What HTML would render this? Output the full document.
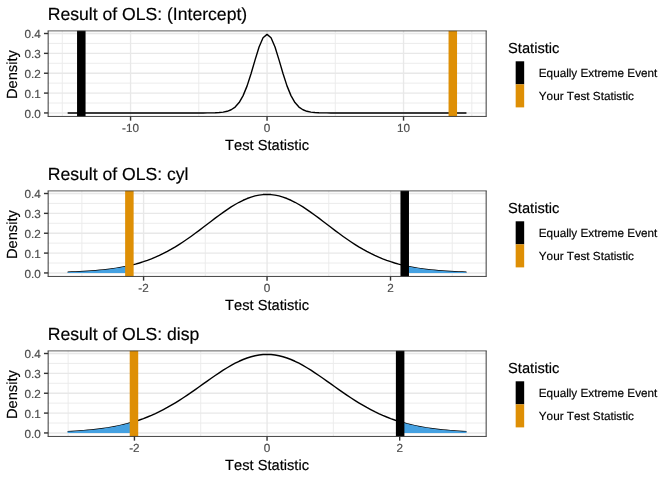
<!DOCTYPE html>
<html lang="en">
<head>
<meta charset="utf-8">
<title>OLS results</title>
<style>
html,body{margin:0;padding:0;background:#fff;}
body{width:672px;height:480px;overflow:hidden;font-family:"Liberation Sans",sans-serif;}
svg{display:block;will-change:transform;font-kerning:none;text-rendering:geometricPrecision;}
text{stroke-width:0.18px;}
text[fill="#000"]{stroke:#000;}
text[fill="#4d4d4d"]{stroke:#4d4d4d;}
</style>
</head>
<body>
<svg width="672" height="480" viewBox="0 0 672 480" font-family="'Liberation Sans', sans-serif">
<rect width="672" height="480" fill="#fff"/>
<g>
<text x="47.71" y="20.00" font-size="17.6" fill="#000">Result of OLS: (Intercept)</text>
<rect x="48.16" y="30.80" width="438.00" height="85.65" fill="#fff"/>
<line x1="48.16" x2="486.16" y1="103.02" y2="103.02" stroke="#ebebeb" stroke-width="0.95"/>
<line x1="48.16" x2="486.16" y1="83.16" y2="83.16" stroke="#ebebeb" stroke-width="0.95"/>
<line x1="48.16" x2="486.16" y1="63.30" y2="63.30" stroke="#ebebeb" stroke-width="0.95"/>
<line x1="48.16" x2="486.16" y1="43.44" y2="43.44" stroke="#ebebeb" stroke-width="0.95"/>
<line x1="62.31" x2="62.31" y1="30.80" y2="116.45" stroke="#ebebeb" stroke-width="0.95"/>
<line x1="198.80" x2="198.80" y1="30.80" y2="116.45" stroke="#ebebeb" stroke-width="0.95"/>
<line x1="335.30" x2="335.30" y1="30.80" y2="116.45" stroke="#ebebeb" stroke-width="0.95"/>
<line x1="471.79" x2="471.79" y1="30.80" y2="116.45" stroke="#ebebeb" stroke-width="0.95"/>
<line x1="48.16" x2="486.16" y1="112.95" y2="112.95" stroke="#e8e8e8" stroke-width="1.35"/>
<line x1="48.16" x2="486.16" y1="93.09" y2="93.09" stroke="#e8e8e8" stroke-width="1.35"/>
<line x1="48.16" x2="486.16" y1="73.23" y2="73.23" stroke="#e8e8e8" stroke-width="1.35"/>
<line x1="48.16" x2="486.16" y1="53.37" y2="53.37" stroke="#e8e8e8" stroke-width="1.35"/>
<line x1="48.16" x2="486.16" y1="33.51" y2="33.51" stroke="#e8e8e8" stroke-width="1.35"/>
<line x1="130.56" x2="130.56" y1="30.80" y2="116.45" stroke="#e8e8e8" stroke-width="1.35"/>
<line x1="267.05" x2="267.05" y1="30.80" y2="116.45" stroke="#e8e8e8" stroke-width="1.35"/>
<line x1="403.54" x2="403.54" y1="30.80" y2="116.45" stroke="#e8e8e8" stroke-width="1.35"/>
<path d="M67.65,112.95 L71.64,112.95 L75.63,112.95 L79.61,112.95 L83.60,112.95 L87.59,112.95 L91.58,112.95 L95.57,112.95 L99.55,112.95 L103.54,112.95 L107.53,112.95 L111.52,112.95 L115.51,112.95 L119.49,112.95 L123.48,112.95 L127.47,112.95 L131.46,112.95 L135.45,112.95 L139.43,112.95 L143.42,112.95 L147.41,112.95 L151.40,112.95 L155.39,112.95 L159.37,112.95 L163.36,112.95 L167.35,112.95 L171.34,112.95 L175.33,112.95 L179.31,112.95 L183.30,112.95 L187.29,112.95 L191.28,112.95 L195.27,112.95 L199.25,112.94 L203.24,112.93 L207.23,112.91 L211.22,112.87 L215.21,112.77 L219.19,112.56 L223.18,112.14 L227.17,111.31 L231.16,109.77 L235.15,107.05 L239.13,102.54 L243.12,95.61 L247.11,85.88 L251.10,73.57 L255.09,59.89 L259.07,47.05 L263.06,37.79 L267.05,34.40 L271.04,37.79 L275.03,47.05 L279.01,59.89 L283.00,73.57 L286.99,85.88 L290.98,95.61 L294.97,102.54 L298.95,107.05 L302.94,109.77 L306.93,111.31 L310.92,112.14 L314.91,112.56 L318.89,112.77 L322.88,112.87 L326.87,112.91 L330.86,112.93 L334.85,112.94 L338.83,112.95 L342.82,112.95 L346.81,112.95 L350.80,112.95 L354.79,112.95 L358.77,112.95 L362.76,112.95 L366.75,112.95 L370.74,112.95 L374.73,112.95 L378.71,112.95 L382.70,112.95 L386.69,112.95 L390.68,112.95 L394.67,112.95 L398.65,112.95 L402.64,112.95 L406.63,112.95 L410.62,112.95 L414.61,112.95 L418.59,112.95 L422.58,112.95 L426.57,112.95 L430.56,112.95 L434.55,112.95 L438.53,112.95 L442.52,112.95 L446.51,112.95 L450.50,112.95 L454.49,112.95 L458.47,112.95 L462.46,112.95 L466.45,112.95" fill="none" stroke="#000" stroke-width="1.4" stroke-linejoin="round"/>
<path d="M67.65,112.95 L67.65,112.95 L71.64,112.95 L75.63,112.95 L79.61,112.95 L81.30,112.95 L81.30,112.95 Z" fill="#45A1E1"/>
<path d="M452.80,112.95 L452.80,112.95 L454.49,112.95 L458.47,112.95 L462.46,112.95 L466.45,112.95 L466.45,112.95 Z" fill="#45A1E1"/>
<rect x="77.05" y="30.80" width="8.5" height="85.65" fill="#000"/>
<rect x="448.55" y="30.80" width="8.5" height="85.65" fill="#DE8F05"/>
<line x1="47.61" x2="486.71" y1="30.90" y2="30.90" stroke="#333" stroke-width="0.8"/>
<line x1="47.61" x2="486.71" y1="116.45" y2="116.45" stroke="#3a3a3a" stroke-width="0.95"/>
<line x1="48.16" x2="48.16" y1="30.80" y2="116.45" stroke="#3a3a3a" stroke-width="1.0"/>
<line x1="486.16" x2="486.16" y1="30.80" y2="116.45" stroke="#3a3a3a" stroke-width="1.0"/>
<line x1="43.96" x2="48.16" y1="112.95" y2="112.95" stroke="#333" stroke-width="1.4"/>
<text x="40.86" y="118.00" font-size="11.73" fill="#4d4d4d" text-anchor="end">0.0</text>
<line x1="43.96" x2="48.16" y1="93.09" y2="93.09" stroke="#333" stroke-width="1.4"/>
<text x="40.86" y="98.00" font-size="11.73" fill="#4d4d4d" text-anchor="end">0.1</text>
<line x1="43.96" x2="48.16" y1="73.23" y2="73.23" stroke="#333" stroke-width="1.4"/>
<text x="40.86" y="78.00" font-size="11.73" fill="#4d4d4d" text-anchor="end">0.2</text>
<line x1="43.96" x2="48.16" y1="53.37" y2="53.37" stroke="#333" stroke-width="1.4"/>
<text x="40.86" y="58.00" font-size="11.73" fill="#4d4d4d" text-anchor="end">0.3</text>
<line x1="43.96" x2="48.16" y1="33.51" y2="33.51" stroke="#333" stroke-width="1.4"/>
<text x="40.86" y="38.00" font-size="11.73" fill="#4d4d4d" text-anchor="end">0.4</text>
<line x1="130.56" x2="130.56" y1="116.45" y2="120.65" stroke="#333" stroke-width="1.4"/>
<text x="130.56" y="132.15" font-size="11.73" fill="#4d4d4d" text-anchor="middle">-10</text>
<line x1="267.05" x2="267.05" y1="116.45" y2="120.65" stroke="#333" stroke-width="1.4"/>
<text x="267.05" y="132.15" font-size="11.73" fill="#4d4d4d" text-anchor="middle">0</text>
<line x1="403.54" x2="403.54" y1="116.45" y2="120.65" stroke="#333" stroke-width="1.4"/>
<text x="403.54" y="132.15" font-size="11.73" fill="#4d4d4d" text-anchor="middle">10</text>
<text x="267.05" y="149.80" font-size="14.67" fill="#000" text-anchor="middle">Test Statistic</text>
<text transform="translate(17.2,74.62) rotate(-90)" font-size="14.67" fill="#000" text-anchor="middle">Density</text>
<text x="508.1" y="53.00" font-size="14.67" fill="#000">Statistic</text>
<rect x="515.67" y="61.30" width="8.5" height="23.04" fill="#000"/>
<rect x="515.67" y="84.34" width="8.5" height="23.04" fill="#DE8F05"/>
<text x="538.8" y="77.00" font-size="11.73" fill="#000">Equally Extreme Event</text>
<text x="538.8" y="100.30" font-size="11.73" fill="#000">Your Test Statistic</text>
</g>
<g>
<text x="47.71" y="180.00" font-size="17.6" fill="#000">Result of OLS: cyl</text>
<rect x="48.16" y="190.80" width="438.00" height="85.65" fill="#fff"/>
<line x1="48.16" x2="486.16" y1="263.02" y2="263.02" stroke="#ebebeb" stroke-width="0.95"/>
<line x1="48.16" x2="486.16" y1="243.16" y2="243.16" stroke="#ebebeb" stroke-width="0.95"/>
<line x1="48.16" x2="486.16" y1="223.30" y2="223.30" stroke="#ebebeb" stroke-width="0.95"/>
<line x1="48.16" x2="486.16" y1="203.44" y2="203.44" stroke="#ebebeb" stroke-width="0.95"/>
<line x1="81.85" x2="81.85" y1="190.80" y2="276.45" stroke="#ebebeb" stroke-width="0.95"/>
<line x1="205.32" x2="205.32" y1="190.80" y2="276.45" stroke="#ebebeb" stroke-width="0.95"/>
<line x1="328.78" x2="328.78" y1="190.80" y2="276.45" stroke="#ebebeb" stroke-width="0.95"/>
<line x1="452.25" x2="452.25" y1="190.80" y2="276.45" stroke="#ebebeb" stroke-width="0.95"/>
<line x1="48.16" x2="486.16" y1="272.95" y2="272.95" stroke="#e8e8e8" stroke-width="1.35"/>
<line x1="48.16" x2="486.16" y1="253.09" y2="253.09" stroke="#e8e8e8" stroke-width="1.35"/>
<line x1="48.16" x2="486.16" y1="233.23" y2="233.23" stroke="#e8e8e8" stroke-width="1.35"/>
<line x1="48.16" x2="486.16" y1="213.37" y2="213.37" stroke="#e8e8e8" stroke-width="1.35"/>
<line x1="48.16" x2="486.16" y1="193.51" y2="193.51" stroke="#e8e8e8" stroke-width="1.35"/>
<line x1="143.58" x2="143.58" y1="190.80" y2="276.45" stroke="#e8e8e8" stroke-width="1.35"/>
<line x1="267.05" x2="267.05" y1="190.80" y2="276.45" stroke="#e8e8e8" stroke-width="1.35"/>
<line x1="390.52" x2="390.52" y1="190.80" y2="276.45" stroke="#e8e8e8" stroke-width="1.35"/>
<path d="M67.65,272.17 L71.64,272.03 L75.63,271.88 L79.61,271.70 L83.60,271.49 L87.59,271.25 L91.58,270.98 L95.57,270.67 L99.55,270.31 L103.54,269.90 L107.53,269.44 L111.52,268.92 L115.51,268.32 L119.49,267.66 L123.48,266.91 L127.47,266.07 L131.46,265.14 L135.45,264.10 L139.43,262.96 L143.42,261.69 L147.41,260.31 L151.40,258.79 L155.39,257.15 L159.37,255.36 L163.36,253.43 L167.35,251.37 L171.34,249.16 L175.33,246.82 L179.31,244.34 L183.30,241.74 L187.29,239.02 L191.28,236.20 L195.27,233.30 L199.25,230.32 L203.24,227.30 L207.23,224.25 L211.22,221.20 L215.21,218.17 L219.19,215.20 L223.18,212.32 L227.17,209.55 L231.16,206.93 L235.15,204.49 L239.13,202.26 L243.12,200.26 L247.11,198.52 L251.10,197.06 L255.09,195.91 L259.07,195.08 L263.06,194.57 L267.05,194.40 L271.04,194.57 L275.03,195.08 L279.01,195.91 L283.00,197.06 L286.99,198.52 L290.98,200.26 L294.97,202.26 L298.95,204.49 L302.94,206.93 L306.93,209.55 L310.92,212.32 L314.91,215.20 L318.89,218.17 L322.88,221.20 L326.87,224.25 L330.86,227.30 L334.85,230.32 L338.83,233.30 L342.82,236.20 L346.81,239.02 L350.80,241.74 L354.79,244.34 L358.77,246.82 L362.76,249.16 L366.75,251.37 L370.74,253.43 L374.73,255.36 L378.71,257.15 L382.70,258.79 L386.69,260.31 L390.68,261.69 L394.67,262.96 L398.65,264.10 L402.64,265.14 L406.63,266.07 L410.62,266.91 L414.61,267.66 L418.59,268.32 L422.58,268.92 L426.57,269.44 L430.56,269.90 L434.55,270.31 L438.53,270.67 L442.52,270.98 L446.51,271.25 L450.50,271.49 L454.49,271.70 L458.47,271.88 L462.46,272.03 L466.45,272.17" fill="none" stroke="#000" stroke-width="1.4" stroke-linejoin="round"/>
<path d="M67.65,272.95 L67.65,272.17 L71.64,272.03 L75.63,271.88 L79.61,271.70 L83.60,271.49 L87.59,271.25 L91.58,270.98 L95.57,270.67 L99.55,270.31 L103.54,269.90 L107.53,269.44 L111.52,268.92 L115.51,268.32 L119.49,267.66 L123.48,266.91 L127.47,266.07 L129.38,265.64 L129.38,272.95 Z" fill="#45A1E1"/>
<path d="M404.72,272.95 L404.72,265.64 L406.63,266.07 L410.62,266.91 L414.61,267.66 L418.59,268.32 L422.58,268.92 L426.57,269.44 L430.56,269.90 L434.55,270.31 L438.53,270.67 L442.52,270.98 L446.51,271.25 L450.50,271.49 L454.49,271.70 L458.47,271.88 L462.46,272.03 L466.45,272.17 L466.45,272.95 Z" fill="#45A1E1"/>
<rect x="400.47" y="190.80" width="8.5" height="85.65" fill="#000"/>
<rect x="125.13" y="190.80" width="8.5" height="85.65" fill="#DE8F05"/>
<line x1="47.61" x2="486.71" y1="190.90" y2="190.90" stroke="#333" stroke-width="0.8"/>
<line x1="47.61" x2="486.71" y1="276.45" y2="276.45" stroke="#3a3a3a" stroke-width="0.95"/>
<line x1="48.16" x2="48.16" y1="190.80" y2="276.45" stroke="#3a3a3a" stroke-width="1.0"/>
<line x1="486.16" x2="486.16" y1="190.80" y2="276.45" stroke="#3a3a3a" stroke-width="1.0"/>
<line x1="43.96" x2="48.16" y1="272.95" y2="272.95" stroke="#333" stroke-width="1.4"/>
<text x="40.86" y="278.00" font-size="11.73" fill="#4d4d4d" text-anchor="end">0.0</text>
<line x1="43.96" x2="48.16" y1="253.09" y2="253.09" stroke="#333" stroke-width="1.4"/>
<text x="40.86" y="258.00" font-size="11.73" fill="#4d4d4d" text-anchor="end">0.1</text>
<line x1="43.96" x2="48.16" y1="233.23" y2="233.23" stroke="#333" stroke-width="1.4"/>
<text x="40.86" y="238.00" font-size="11.73" fill="#4d4d4d" text-anchor="end">0.2</text>
<line x1="43.96" x2="48.16" y1="213.37" y2="213.37" stroke="#333" stroke-width="1.4"/>
<text x="40.86" y="218.00" font-size="11.73" fill="#4d4d4d" text-anchor="end">0.3</text>
<line x1="43.96" x2="48.16" y1="193.51" y2="193.51" stroke="#333" stroke-width="1.4"/>
<text x="40.86" y="198.00" font-size="11.73" fill="#4d4d4d" text-anchor="end">0.4</text>
<line x1="143.58" x2="143.58" y1="276.45" y2="280.65" stroke="#333" stroke-width="1.4"/>
<text x="143.58" y="292.15" font-size="11.73" fill="#4d4d4d" text-anchor="middle">-2</text>
<line x1="267.05" x2="267.05" y1="276.45" y2="280.65" stroke="#333" stroke-width="1.4"/>
<text x="267.05" y="292.15" font-size="11.73" fill="#4d4d4d" text-anchor="middle">0</text>
<line x1="390.52" x2="390.52" y1="276.45" y2="280.65" stroke="#333" stroke-width="1.4"/>
<text x="390.52" y="292.15" font-size="11.73" fill="#4d4d4d" text-anchor="middle">2</text>
<text x="267.05" y="309.80" font-size="14.67" fill="#000" text-anchor="middle">Test Statistic</text>
<text transform="translate(17.2,234.62) rotate(-90)" font-size="14.67" fill="#000" text-anchor="middle">Density</text>
<text x="508.1" y="213.00" font-size="14.67" fill="#000">Statistic</text>
<rect x="515.67" y="221.30" width="8.5" height="23.04" fill="#000"/>
<rect x="515.67" y="244.34" width="8.5" height="23.04" fill="#DE8F05"/>
<text x="538.8" y="237.00" font-size="11.73" fill="#000">Equally Extreme Event</text>
<text x="538.8" y="260.30" font-size="11.73" fill="#000">Your Test Statistic</text>
</g>
<g>
<text x="47.71" y="340.00" font-size="17.6" fill="#000">Result of OLS: disp</text>
<rect x="48.16" y="350.80" width="438.00" height="85.65" fill="#fff"/>
<line x1="48.16" x2="486.16" y1="423.02" y2="423.02" stroke="#ebebeb" stroke-width="0.95"/>
<line x1="48.16" x2="486.16" y1="403.16" y2="403.16" stroke="#ebebeb" stroke-width="0.95"/>
<line x1="48.16" x2="486.16" y1="383.30" y2="383.30" stroke="#ebebeb" stroke-width="0.95"/>
<line x1="48.16" x2="486.16" y1="363.44" y2="363.44" stroke="#ebebeb" stroke-width="0.95"/>
<line x1="68.11" x2="68.11" y1="350.80" y2="436.45" stroke="#ebebeb" stroke-width="0.95"/>
<line x1="200.74" x2="200.74" y1="350.80" y2="436.45" stroke="#ebebeb" stroke-width="0.95"/>
<line x1="333.36" x2="333.36" y1="350.80" y2="436.45" stroke="#ebebeb" stroke-width="0.95"/>
<line x1="465.99" x2="465.99" y1="350.80" y2="436.45" stroke="#ebebeb" stroke-width="0.95"/>
<line x1="48.16" x2="486.16" y1="432.95" y2="432.95" stroke="#e8e8e8" stroke-width="1.35"/>
<line x1="48.16" x2="486.16" y1="413.09" y2="413.09" stroke="#e8e8e8" stroke-width="1.35"/>
<line x1="48.16" x2="486.16" y1="393.23" y2="393.23" stroke="#e8e8e8" stroke-width="1.35"/>
<line x1="48.16" x2="486.16" y1="373.37" y2="373.37" stroke="#e8e8e8" stroke-width="1.35"/>
<line x1="48.16" x2="486.16" y1="353.51" y2="353.51" stroke="#e8e8e8" stroke-width="1.35"/>
<line x1="134.43" x2="134.43" y1="350.80" y2="436.45" stroke="#e8e8e8" stroke-width="1.35"/>
<line x1="267.05" x2="267.05" y1="350.80" y2="436.45" stroke="#e8e8e8" stroke-width="1.35"/>
<line x1="399.67" x2="399.67" y1="350.80" y2="436.45" stroke="#e8e8e8" stroke-width="1.35"/>
<path d="M67.65,431.61 L71.64,431.41 L75.63,431.17 L79.61,430.91 L83.60,430.61 L87.59,430.27 L91.58,429.89 L95.57,429.46 L99.55,428.97 L103.54,428.43 L107.53,427.82 L111.52,427.15 L115.51,426.40 L119.49,425.57 L123.48,424.65 L127.47,423.64 L131.46,422.53 L135.45,421.32 L139.43,420.00 L143.42,418.57 L147.41,417.02 L151.40,415.36 L155.39,413.57 L159.37,411.66 L163.36,409.62 L167.35,407.47 L171.34,405.20 L175.33,402.82 L179.31,400.34 L183.30,397.77 L187.29,395.11 L191.28,392.38 L195.27,389.59 L199.25,386.77 L203.24,383.93 L207.23,381.09 L211.22,378.27 L215.21,375.50 L219.19,372.81 L223.18,370.21 L227.17,367.73 L231.16,365.39 L235.15,363.23 L239.13,361.26 L243.12,359.50 L247.11,357.98 L251.10,356.71 L255.09,355.71 L259.07,354.99 L263.06,354.55 L267.05,354.40 L271.04,354.55 L275.03,354.99 L279.01,355.71 L283.00,356.71 L286.99,357.98 L290.98,359.50 L294.97,361.26 L298.95,363.23 L302.94,365.39 L306.93,367.73 L310.92,370.21 L314.91,372.81 L318.89,375.50 L322.88,378.27 L326.87,381.09 L330.86,383.93 L334.85,386.77 L338.83,389.59 L342.82,392.38 L346.81,395.11 L350.80,397.77 L354.79,400.34 L358.77,402.82 L362.76,405.20 L366.75,407.47 L370.74,409.62 L374.73,411.66 L378.71,413.57 L382.70,415.36 L386.69,417.02 L390.68,418.57 L394.67,420.00 L398.65,421.32 L402.64,422.53 L406.63,423.64 L410.62,424.65 L414.61,425.57 L418.59,426.40 L422.58,427.15 L426.57,427.82 L430.56,428.43 L434.55,428.97 L438.53,429.46 L442.52,429.89 L446.51,430.27 L450.50,430.61 L454.49,430.91 L458.47,431.17 L462.46,431.41 L466.45,431.61" fill="none" stroke="#000" stroke-width="1.4" stroke-linejoin="round"/>
<path d="M67.65,432.95 L67.65,431.61 L71.64,431.41 L75.63,431.17 L79.61,430.91 L83.60,430.61 L87.59,430.27 L91.58,429.89 L95.57,429.46 L99.55,428.97 L103.54,428.43 L107.53,427.82 L111.52,427.15 L115.51,426.40 L119.49,425.57 L123.48,424.65 L127.47,423.64 L131.46,422.53 L133.96,421.78 L133.96,432.95 Z" fill="#45A1E1"/>
<path d="M400.14,432.95 L400.14,421.78 L402.64,422.53 L406.63,423.64 L410.62,424.65 L414.61,425.57 L418.59,426.40 L422.58,427.15 L426.57,427.82 L430.56,428.43 L434.55,428.97 L438.53,429.46 L442.52,429.89 L446.51,430.27 L450.50,430.61 L454.49,430.91 L458.47,431.17 L462.46,431.41 L466.45,431.61 L466.45,432.95 Z" fill="#45A1E1"/>
<rect x="395.89" y="350.80" width="8.5" height="85.65" fill="#000"/>
<rect x="129.71" y="350.80" width="8.5" height="85.65" fill="#DE8F05"/>
<line x1="47.61" x2="486.71" y1="350.90" y2="350.90" stroke="#333" stroke-width="0.8"/>
<line x1="47.61" x2="486.71" y1="436.45" y2="436.45" stroke="#3a3a3a" stroke-width="0.95"/>
<line x1="48.16" x2="48.16" y1="350.80" y2="436.45" stroke="#3a3a3a" stroke-width="1.0"/>
<line x1="486.16" x2="486.16" y1="350.80" y2="436.45" stroke="#3a3a3a" stroke-width="1.0"/>
<line x1="43.96" x2="48.16" y1="432.95" y2="432.95" stroke="#333" stroke-width="1.4"/>
<text x="40.86" y="438.00" font-size="11.73" fill="#4d4d4d" text-anchor="end">0.0</text>
<line x1="43.96" x2="48.16" y1="413.09" y2="413.09" stroke="#333" stroke-width="1.4"/>
<text x="40.86" y="418.00" font-size="11.73" fill="#4d4d4d" text-anchor="end">0.1</text>
<line x1="43.96" x2="48.16" y1="393.23" y2="393.23" stroke="#333" stroke-width="1.4"/>
<text x="40.86" y="398.00" font-size="11.73" fill="#4d4d4d" text-anchor="end">0.2</text>
<line x1="43.96" x2="48.16" y1="373.37" y2="373.37" stroke="#333" stroke-width="1.4"/>
<text x="40.86" y="378.00" font-size="11.73" fill="#4d4d4d" text-anchor="end">0.3</text>
<line x1="43.96" x2="48.16" y1="353.51" y2="353.51" stroke="#333" stroke-width="1.4"/>
<text x="40.86" y="358.00" font-size="11.73" fill="#4d4d4d" text-anchor="end">0.4</text>
<line x1="134.43" x2="134.43" y1="436.45" y2="440.65" stroke="#333" stroke-width="1.4"/>
<text x="134.43" y="452.15" font-size="11.73" fill="#4d4d4d" text-anchor="middle">-2</text>
<line x1="267.05" x2="267.05" y1="436.45" y2="440.65" stroke="#333" stroke-width="1.4"/>
<text x="267.05" y="452.15" font-size="11.73" fill="#4d4d4d" text-anchor="middle">0</text>
<line x1="399.67" x2="399.67" y1="436.45" y2="440.65" stroke="#333" stroke-width="1.4"/>
<text x="399.67" y="452.15" font-size="11.73" fill="#4d4d4d" text-anchor="middle">2</text>
<text x="267.05" y="469.80" font-size="14.67" fill="#000" text-anchor="middle">Test Statistic</text>
<text transform="translate(17.2,394.62) rotate(-90)" font-size="14.67" fill="#000" text-anchor="middle">Density</text>
<text x="508.1" y="373.00" font-size="14.67" fill="#000">Statistic</text>
<rect x="515.67" y="381.30" width="8.5" height="23.04" fill="#000"/>
<rect x="515.67" y="404.34" width="8.5" height="23.04" fill="#DE8F05"/>
<text x="538.8" y="397.00" font-size="11.73" fill="#000">Equally Extreme Event</text>
<text x="538.8" y="420.30" font-size="11.73" fill="#000">Your Test Statistic</text>
</g>
</svg>
</body>
</html>
